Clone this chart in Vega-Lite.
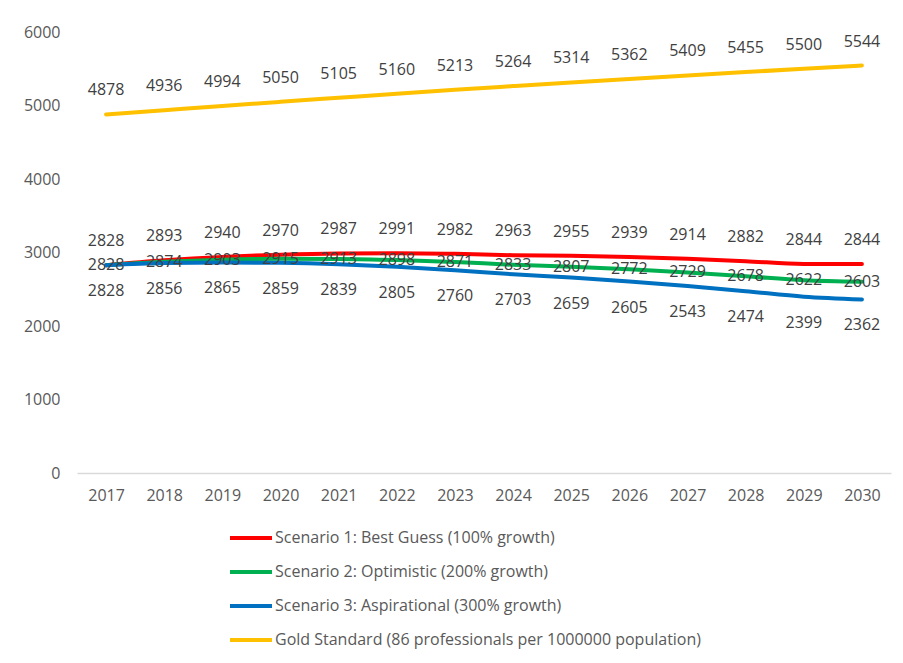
{
  "$schema": "https://vega.github.io/schema/vega-lite/v6.json",
  "width": 814,
  "height": 441,
  "autosize": "none",
  "padding": {"left": 77, "top": 32, "right": 12, "bottom": 190},
  "background": "white",
  "config": {
    "view": {"stroke": null},
    "font": "Open Sans",
    "text": {"font": "Open Sans"}
  },
  "data": {
    "values": [
      {"series": "Scenario 1: Best Guess (100% growth)", "year": "2017", "value": 2828},
      {"series": "Scenario 1: Best Guess (100% growth)", "year": "2018", "value": 2893},
      {"series": "Scenario 1: Best Guess (100% growth)", "year": "2019", "value": 2940},
      {"series": "Scenario 1: Best Guess (100% growth)", "year": "2020", "value": 2970},
      {"series": "Scenario 1: Best Guess (100% growth)", "year": "2021", "value": 2987},
      {"series": "Scenario 1: Best Guess (100% growth)", "year": "2022", "value": 2991},
      {"series": "Scenario 1: Best Guess (100% growth)", "year": "2023", "value": 2982},
      {"series": "Scenario 1: Best Guess (100% growth)", "year": "2024", "value": 2963},
      {"series": "Scenario 1: Best Guess (100% growth)", "year": "2025", "value": 2955},
      {"series": "Scenario 1: Best Guess (100% growth)", "year": "2026", "value": 2939},
      {"series": "Scenario 1: Best Guess (100% growth)", "year": "2027", "value": 2914},
      {"series": "Scenario 1: Best Guess (100% growth)", "year": "2028", "value": 2882},
      {"series": "Scenario 1: Best Guess (100% growth)", "year": "2029", "value": 2844},
      {"series": "Scenario 1: Best Guess (100% growth)", "year": "2030", "value": 2844},
      {"series": "Scenario 2: Optimistic (200% growth)", "year": "2017", "value": 2828},
      {"series": "Scenario 2: Optimistic (200% growth)", "year": "2018", "value": 2874},
      {"series": "Scenario 2: Optimistic (200% growth)", "year": "2019", "value": 2903},
      {"series": "Scenario 2: Optimistic (200% growth)", "year": "2020", "value": 2915},
      {"series": "Scenario 2: Optimistic (200% growth)", "year": "2021", "value": 2913},
      {"series": "Scenario 2: Optimistic (200% growth)", "year": "2022", "value": 2898},
      {"series": "Scenario 2: Optimistic (200% growth)", "year": "2023", "value": 2871},
      {"series": "Scenario 2: Optimistic (200% growth)", "year": "2024", "value": 2833},
      {"series": "Scenario 2: Optimistic (200% growth)", "year": "2025", "value": 2807},
      {"series": "Scenario 2: Optimistic (200% growth)", "year": "2026", "value": 2772},
      {"series": "Scenario 2: Optimistic (200% growth)", "year": "2027", "value": 2729},
      {"series": "Scenario 2: Optimistic (200% growth)", "year": "2028", "value": 2678},
      {"series": "Scenario 2: Optimistic (200% growth)", "year": "2029", "value": 2622},
      {"series": "Scenario 2: Optimistic (200% growth)", "year": "2030", "value": 2603},
      {"series": "Scenario 3: Aspirational (300% growth)", "year": "2017", "value": 2828},
      {"series": "Scenario 3: Aspirational (300% growth)", "year": "2018", "value": 2856},
      {"series": "Scenario 3: Aspirational (300% growth)", "year": "2019", "value": 2865},
      {"series": "Scenario 3: Aspirational (300% growth)", "year": "2020", "value": 2859},
      {"series": "Scenario 3: Aspirational (300% growth)", "year": "2021", "value": 2839},
      {"series": "Scenario 3: Aspirational (300% growth)", "year": "2022", "value": 2805},
      {"series": "Scenario 3: Aspirational (300% growth)", "year": "2023", "value": 2760},
      {"series": "Scenario 3: Aspirational (300% growth)", "year": "2024", "value": 2703},
      {"series": "Scenario 3: Aspirational (300% growth)", "year": "2025", "value": 2659},
      {"series": "Scenario 3: Aspirational (300% growth)", "year": "2026", "value": 2605},
      {"series": "Scenario 3: Aspirational (300% growth)", "year": "2027", "value": 2543},
      {"series": "Scenario 3: Aspirational (300% growth)", "year": "2028", "value": 2474},
      {"series": "Scenario 3: Aspirational (300% growth)", "year": "2029", "value": 2399},
      {"series": "Scenario 3: Aspirational (300% growth)", "year": "2030", "value": 2362},
      {"series": "Gold Standard (86 professionals per 1000000 population)", "year": "2017", "value": 4878},
      {"series": "Gold Standard (86 professionals per 1000000 population)", "year": "2018", "value": 4936},
      {"series": "Gold Standard (86 professionals per 1000000 population)", "year": "2019", "value": 4994},
      {"series": "Gold Standard (86 professionals per 1000000 population)", "year": "2020", "value": 5050},
      {"series": "Gold Standard (86 professionals per 1000000 population)", "year": "2021", "value": 5105},
      {"series": "Gold Standard (86 professionals per 1000000 population)", "year": "2022", "value": 5160},
      {"series": "Gold Standard (86 professionals per 1000000 population)", "year": "2023", "value": 5213},
      {"series": "Gold Standard (86 professionals per 1000000 population)", "year": "2024", "value": 5264},
      {"series": "Gold Standard (86 professionals per 1000000 population)", "year": "2025", "value": 5314},
      {"series": "Gold Standard (86 professionals per 1000000 population)", "year": "2026", "value": 5362},
      {"series": "Gold Standard (86 professionals per 1000000 population)", "year": "2027", "value": 5409},
      {"series": "Gold Standard (86 professionals per 1000000 population)", "year": "2028", "value": 5455},
      {"series": "Gold Standard (86 professionals per 1000000 population)", "year": "2029", "value": 5500},
      {"series": "Gold Standard (86 professionals per 1000000 population)", "year": "2030", "value": 5544}
    ]
  },
  "encoding": {
    "x": {
      "field": "year", "type": "ordinal", "title": null,
      "scale": {"type": "point", "padding": 0.5},
      "axis": {"labelAngle": 0, "ticks": false, "grid": false, "domainColor": "#d9d9d9", "domainWidth": 1.3, "labelFontSize": 16, "labelColor": "#595959", "labelPadding": 14, "labelFont": "Open Sans"}
    },
    "y": {
      "field": "value", "type": "quantitative", "title": null,
      "scale": {"domain": [0, 6000]},
      "axis": {"values": [0, 1000, 2000, 3000, 4000, 5000, 6000], "format": "d", "ticks": false, "grid": false, "domain": false, "labelFontSize": 16, "labelColor": "#595959", "labelPadding": 17, "labelFont": "Open Sans"}
    }
  },
  "layer": [
    {
      "mark": {"type": "line", "interpolate": "monotone", "strokeWidth": 4, "strokeCap": "round"},
      "encoding": {
        "color": {
          "field": "series", "type": "nominal", "sort": null,
          "scale": {
            "domain": ["Scenario 1: Best Guess (100% growth)", "Scenario 2: Optimistic (200% growth)", "Scenario 3: Aspirational (300% growth)", "Gold Standard (86 professionals per 1000000 population)"],
            "range": ["#FF0000", "#00B050", "#0070C0", "#FFC000"]
          },
          "legend": {
            "title": null, "orient": "none", "legendX": 151, "legendY": 483, "direction": "vertical",
            "symbolType": "stroke", "symbolSize": 1764, "symbolStrokeWidth": 4,
            "labelFontSize": 16, "labelColor": "#595959", "labelFont": "Open Sans", "labelLimit": 600,
            "rowPadding": 3, "labelOffset": 1
          }
        }
      }
    },
    {
      "transform": [{"filter": "datum.series == 'Scenario 1: Best Guess (100% growth)' || datum.series == 'Gold Standard (86 professionals per 1000000 population)'"}],
      "mark": {"type": "text", "dy": -24, "fontSize": 16, "color": "#404040", "font": "Open Sans"},
      "encoding": {"text": {"field": "value", "type": "quantitative", "format": "d"}}
    },
    {
      "transform": [{"filter": "datum.series == 'Scenario 2: Optimistic (200% growth)'"}],
      "mark": {"type": "text", "dy": 0, "fontSize": 16, "color": "#404040", "font": "Open Sans"},
      "encoding": {"text": {"field": "value", "type": "quantitative", "format": "d"}}
    },
    {
      "transform": [{"filter": "datum.series == 'Scenario 3: Aspirational (300% growth)'"}],
      "mark": {"type": "text", "dy": 26, "fontSize": 16, "color": "#404040", "font": "Open Sans"},
      "encoding": {"text": {"field": "value", "type": "quantitative", "format": "d"}}
    }
  ]
}
